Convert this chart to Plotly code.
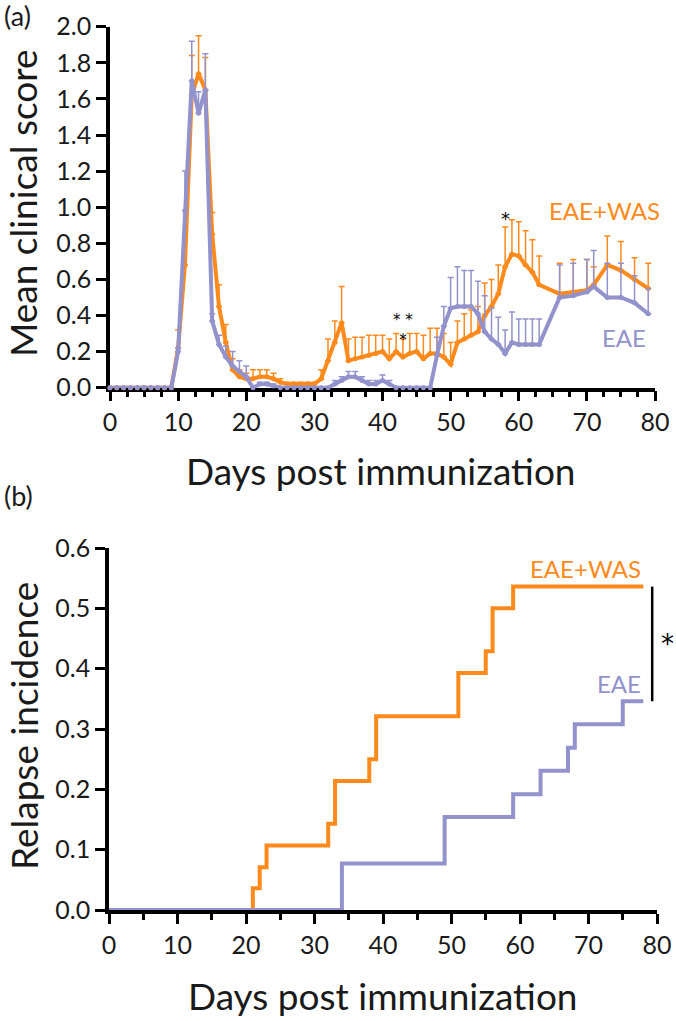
import plotly.graph_objects as go

# ---------------- Panel (a): mean clinical score ----------------
days_a = list(range(0, 64)) + [66, 68, 70, 71, 73, 75, 77, 79]

was_mean = [0, 0, 0, 0, 0, 0, 0, 0, 0, 0,
            0.22, 0.68, 1.62, 1.74, 1.65, 0.85, 0.45, 0.25, 0.10, 0.06,
            0.05, 0.05, 0.06, 0.06, 0.05, 0.03, 0.02, 0.02, 0.02, 0.02,
            0.02, 0.05, 0.15, 0.25, 0.36, 0.15, 0.16, 0.17, 0.18, 0.19,
            0.20, 0.16, 0.20, 0.17, 0.19, 0.20, 0.16, 0.19, 0.19, 0.17,
            0.13, 0.25, 0.27, 0.29, 0.31, 0.40, 0.45, 0.52, 0.67, 0.74,
            0.73, 0.68, 0.64, 0.57,
            0.52, 0.53, 0.54, 0.57, 0.68, 0.65, 0.60, 0.55]
was_err = [0, 0, 0, 0, 0, 0, 0, 0, 0, 0,
           0.10, 0.14, 0.22, 0.21, 0.18, 0.12, 0.12, 0.10, 0.06, 0.04,
           0.03, 0.05, 0.04, 0.04, 0.03, 0.02, 0.01, 0.01, 0.01, 0.01,
           0.01, 0.05, 0.12, 0.12, 0.20, 0.12, 0.12, 0.11, 0.11, 0.10,
           0.09, 0.11, 0.10, 0.10, 0.11, 0.10, 0.13, 0.14, 0.14, 0.13,
           0.12, 0.12, 0.14, 0.14, 0.14, 0.18, 0.15, 0.16, 0.22, 0.19,
           0.19, 0.19, 0.18, 0.16,
           0.17, 0.18, 0.17, 0.10, 0.16, 0.16, 0.12, 0.14]

eae_mean = [0, 0, 0, 0, 0, 0, 0, 0, 0, 0,
            0.20, 0.98, 1.70, 1.52, 1.65, 0.37, 0.24, 0.17, 0.12, 0.09,
            0.06, 0.0, 0.02, 0.02, 0.01, 0, 0, 0, 0, 0,
            0, 0, 0, 0.02, 0.04, 0.06, 0.06, 0.04, 0.02, 0.02,
            0.04, 0.02, 0, 0, 0, 0, 0, 0, 0.18, 0.34,
            0.44, 0.45, 0.45, 0.45, 0.41, 0.31, 0.27, 0.24, 0.19, 0.25,
            0.24, 0.24, 0.24, 0.24,
            0.50, 0.51, 0.53, 0.56, 0.50, 0.50, 0.47, 0.41]
eae_err = [0, 0, 0, 0, 0, 0, 0, 0, 0, 0,
           0.02, 0.22, 0.22, 0.12, 0.20, 0.04, 0.05, 0.06, 0.08, 0.06,
           0.06, 0, 0.01, 0.01, 0.01, 0, 0, 0, 0, 0,
           0, 0, 0, 0.02, 0.02, 0.03, 0.03, 0.02, 0.02, 0.02,
           0.03, 0.02, 0, 0, 0, 0, 0, 0, 0.10, 0.11,
           0.17, 0.22, 0.20, 0.20, 0.18, 0.20, 0.17, 0.15, 0.13, 0.17,
           0.14, 0.14, 0.14, 0.14,
           0.18, 0.18, 0.18, 0.20, 0.19, 0.19, 0.15, 0.14]

# significance markers, panel (a): triple group near day 43 and single at day 58
star_group_x, star_group_y = 43.0, 0.32
star_single_x, star_single_y = 58.0, 0.94

# ---------------- Panel (b): relapse incidence ----------------
was_days = [0, 21, 22, 23, 32, 33, 38, 39, 51, 55, 56, 59, 78]
was_inc = [0, 0.036, 0.071, 0.107, 0.143, 0.214, 0.25, 0.321, 0.393, 0.429, 0.5, 0.536, 0.536]
eae_days = [0, 34, 49, 59, 63, 67, 68, 75, 78]
eae_inc = [0, 0.077, 0.154, 0.192, 0.231, 0.269, 0.308, 0.346, 0.346]

ORANGE = "#FF8A1C"
PURPLE = "#9292CC"
TXT = "#1a1a1a"
FONT = "Lato"

fig = go.Figure()

def err(arr, col):
    return dict(type="data", symmetric=False, array=arr, arrayminus=[0] * len(arr),
                color=col, thickness=1.5, width=3)

fig.add_trace(go.Scatter(x=days_a, y=was_mean, mode="lines+markers",
                         line=dict(color=ORANGE, width=4), marker=dict(size=5, color=ORANGE),
                         error_y=err(was_err, ORANGE), cliponaxis=False,
                         xaxis="x", yaxis="y", showlegend=False))
fig.add_trace(go.Scatter(x=days_a, y=eae_mean, mode="lines+markers",
                         line=dict(color=PURPLE, width=4), marker=dict(size=5, color=PURPLE),
                         error_y=err(eae_err, PURPLE), cliponaxis=False,
                         xaxis="x", yaxis="y", showlegend=False))

fig.add_trace(go.Scatter(x=was_days, y=was_inc, mode="lines", line_shape="hv",
                         line=dict(color=ORANGE, width=4), cliponaxis=False,
                         xaxis="x2", yaxis="y2", showlegend=False))
fig.add_trace(go.Scatter(x=eae_days, y=eae_inc, mode="lines", line_shape="hv",
                         line=dict(color=PURPLE, width=4), cliponaxis=False,
                         xaxis="x2", yaxis="y2", showlegend=False))

axis_common = dict(showline=True, linecolor="black", linewidth=3.5, ticks="outside",
                   tickcolor="black", tickwidth=3, ticklen=10, showgrid=False, zeroline=False,
                   automargin=False,
                   tickfont=dict(family=FONT, size=25, color=TXT), layer="below traces")

H = 1021.0
W = 676.0
x1dom = [110 / W, 655 / W]
x2dom = [109 / W, 657 / W]
y2_lo, y2_hi = 1 - 910 / H, 1 - 548 / H
fig.update_layout(
    width=676, height=1021, margin=dict(l=0, r=0, t=0, b=0, autoexpand=False),
    paper_bgcolor="white", plot_bgcolor="white",
    font=dict(family=FONT),
    xaxis=dict(domain=x1dom, anchor="y", range=[0, 80], tickvals=list(range(0, 81, 10)),
               minor=dict(dtick=2.5, ticks="outside", ticklen=6, tickwidth=2.5, tickcolor="black"),
               **axis_common),
    yaxis=dict(domain=[1 - 387.7 / H, 1 - 26.7 / H], anchor="x", range=[0, 2],
               tickvals=[i / 5 for i in range(11)], tickformat=".1f", **axis_common),
    xaxis2=dict(domain=x2dom, anchor="y2", range=[0, 80], tickvals=list(range(0, 81, 10)),
                minor=dict(dtick=5, ticks="outside", ticklen=6, tickwidth=2.5, tickcolor="black"),
                **axis_common),
    yaxis2=dict(domain=[y2_lo, y2_hi], anchor="x2", range=[0, 0.6],
                tickvals=[i / 10 for i in range(7)], tickformat=".1f", **axis_common),
)

ann = []
ann.append(dict(text="(a)", x=2 / W, y=1 - 16 / H, xref="paper", yref="paper",
                xanchor="left", yanchor="middle", showarrow=False,
                font=dict(family=FONT, size=27, color=TXT)))
ann.append(dict(text="(b)", x=2 / W, y=1 - 496 / H, xref="paper", yref="paper",
                xanchor="left", yanchor="middle", showarrow=False,
                font=dict(family=FONT, size=27, color=TXT)))
ann.append(dict(text="Mean clinical score", x=23 / W, y=1 - 204 / H, xref="paper", yref="paper",
                textangle=-90, showarrow=False, xanchor="center", yanchor="middle",
                font=dict(family=FONT, size=37, color=TXT)))
ann.append(dict(text="Days post immunization", x=381 / W, y=1 - 470 / H, xref="paper", yref="paper",
                showarrow=False, xanchor="center", yanchor="middle",
                font=dict(family=FONT, size=37, color=TXT)))
ann.append(dict(text="Relapse incidence", x=23 / W, y=1 - 726 / H, xref="paper", yref="paper",
                textangle=-90, showarrow=False, xanchor="center", yanchor="middle",
                font=dict(family=FONT, size=37, color=TXT)))
ann.append(dict(text="Days post immunization", x=383 / W, y=1 - 995 / H, xref="paper", yref="paper",
                showarrow=False, xanchor="center", yanchor="middle",
                font=dict(family=FONT, size=37, color=TXT)))
ann.append(dict(text="EAE+WAS", x=72.6, y=0.98, xref="x", yref="y", showarrow=False,
                font=dict(family=FONT, size=24, color=ORANGE)))
ann.append(dict(text="EAE", x=75.4, y=0.28, xref="x", yref="y", showarrow=False,
                font=dict(family=FONT, size=24, color=PURPLE)))
ann.append(dict(text="EAE+WAS", x=was_days[-1], y=was_inc[-1] + 0.03, xref="x2", yref="y2",
                showarrow=False, xanchor="right", yanchor="middle",
                font=dict(family=FONT, size=24, color=ORANGE)))
ann.append(dict(text="EAE", x=eae_days[-1], y=eae_inc[-1] + 0.03, xref="x2", yref="y2",
                showarrow=False, xanchor="right", yanchor="middle",
                font=dict(family=FONT, size=24, color=PURPLE)))
ann.append(dict(text="*&nbsp;*<br>*", x=star_group_x, y=star_group_y, xref="x", yref="y",
                showarrow=False, xanchor="center", yanchor="middle", align="center",
                font=dict(family="DejaVu Sans", size=15, color="black")))
ann.append(dict(text="*", x=star_single_x, y=star_single_y, xref="x", yref="y",
                showarrow=False, xanchor="center", yanchor="middle",
                font=dict(family="DejaVu Sans", size=18, color="black")))
# asterisk right of the significance bracket (outside the axis range -> paper coords)
star_b_day = 81.5
star_b_val = (was_inc[-1] + eae_inc[-1]) / 2
ann.append(dict(text="*", x=x2dom[0] + (x2dom[1] - x2dom[0]) * star_b_day / 80,
                y=y2_lo + (y2_hi - y2_lo) * star_b_val / 0.6,
                xref="paper", yref="paper", showarrow=False, xanchor="center", yanchor="middle",
                font=dict(family="DejaVu Sans", size=26, color="black")))
fig.update_layout(annotations=ann)

fig.add_shape(type="line", xref="x2", yref="y2", x0=79.3, x1=79.3,
              y0=eae_inc[-1], y1=was_inc[-1], line=dict(color="black", width=2.5))

js = ("document.body.style.margin='0px';"
      "var s=document.createElement('style');"
      "s.innerHTML='svg text{font-variant-ligatures:none;}';"
      "document.head.appendChild(s);")
fig.write_html("out.html", post_script=js, config={"displayModeBar": False})
